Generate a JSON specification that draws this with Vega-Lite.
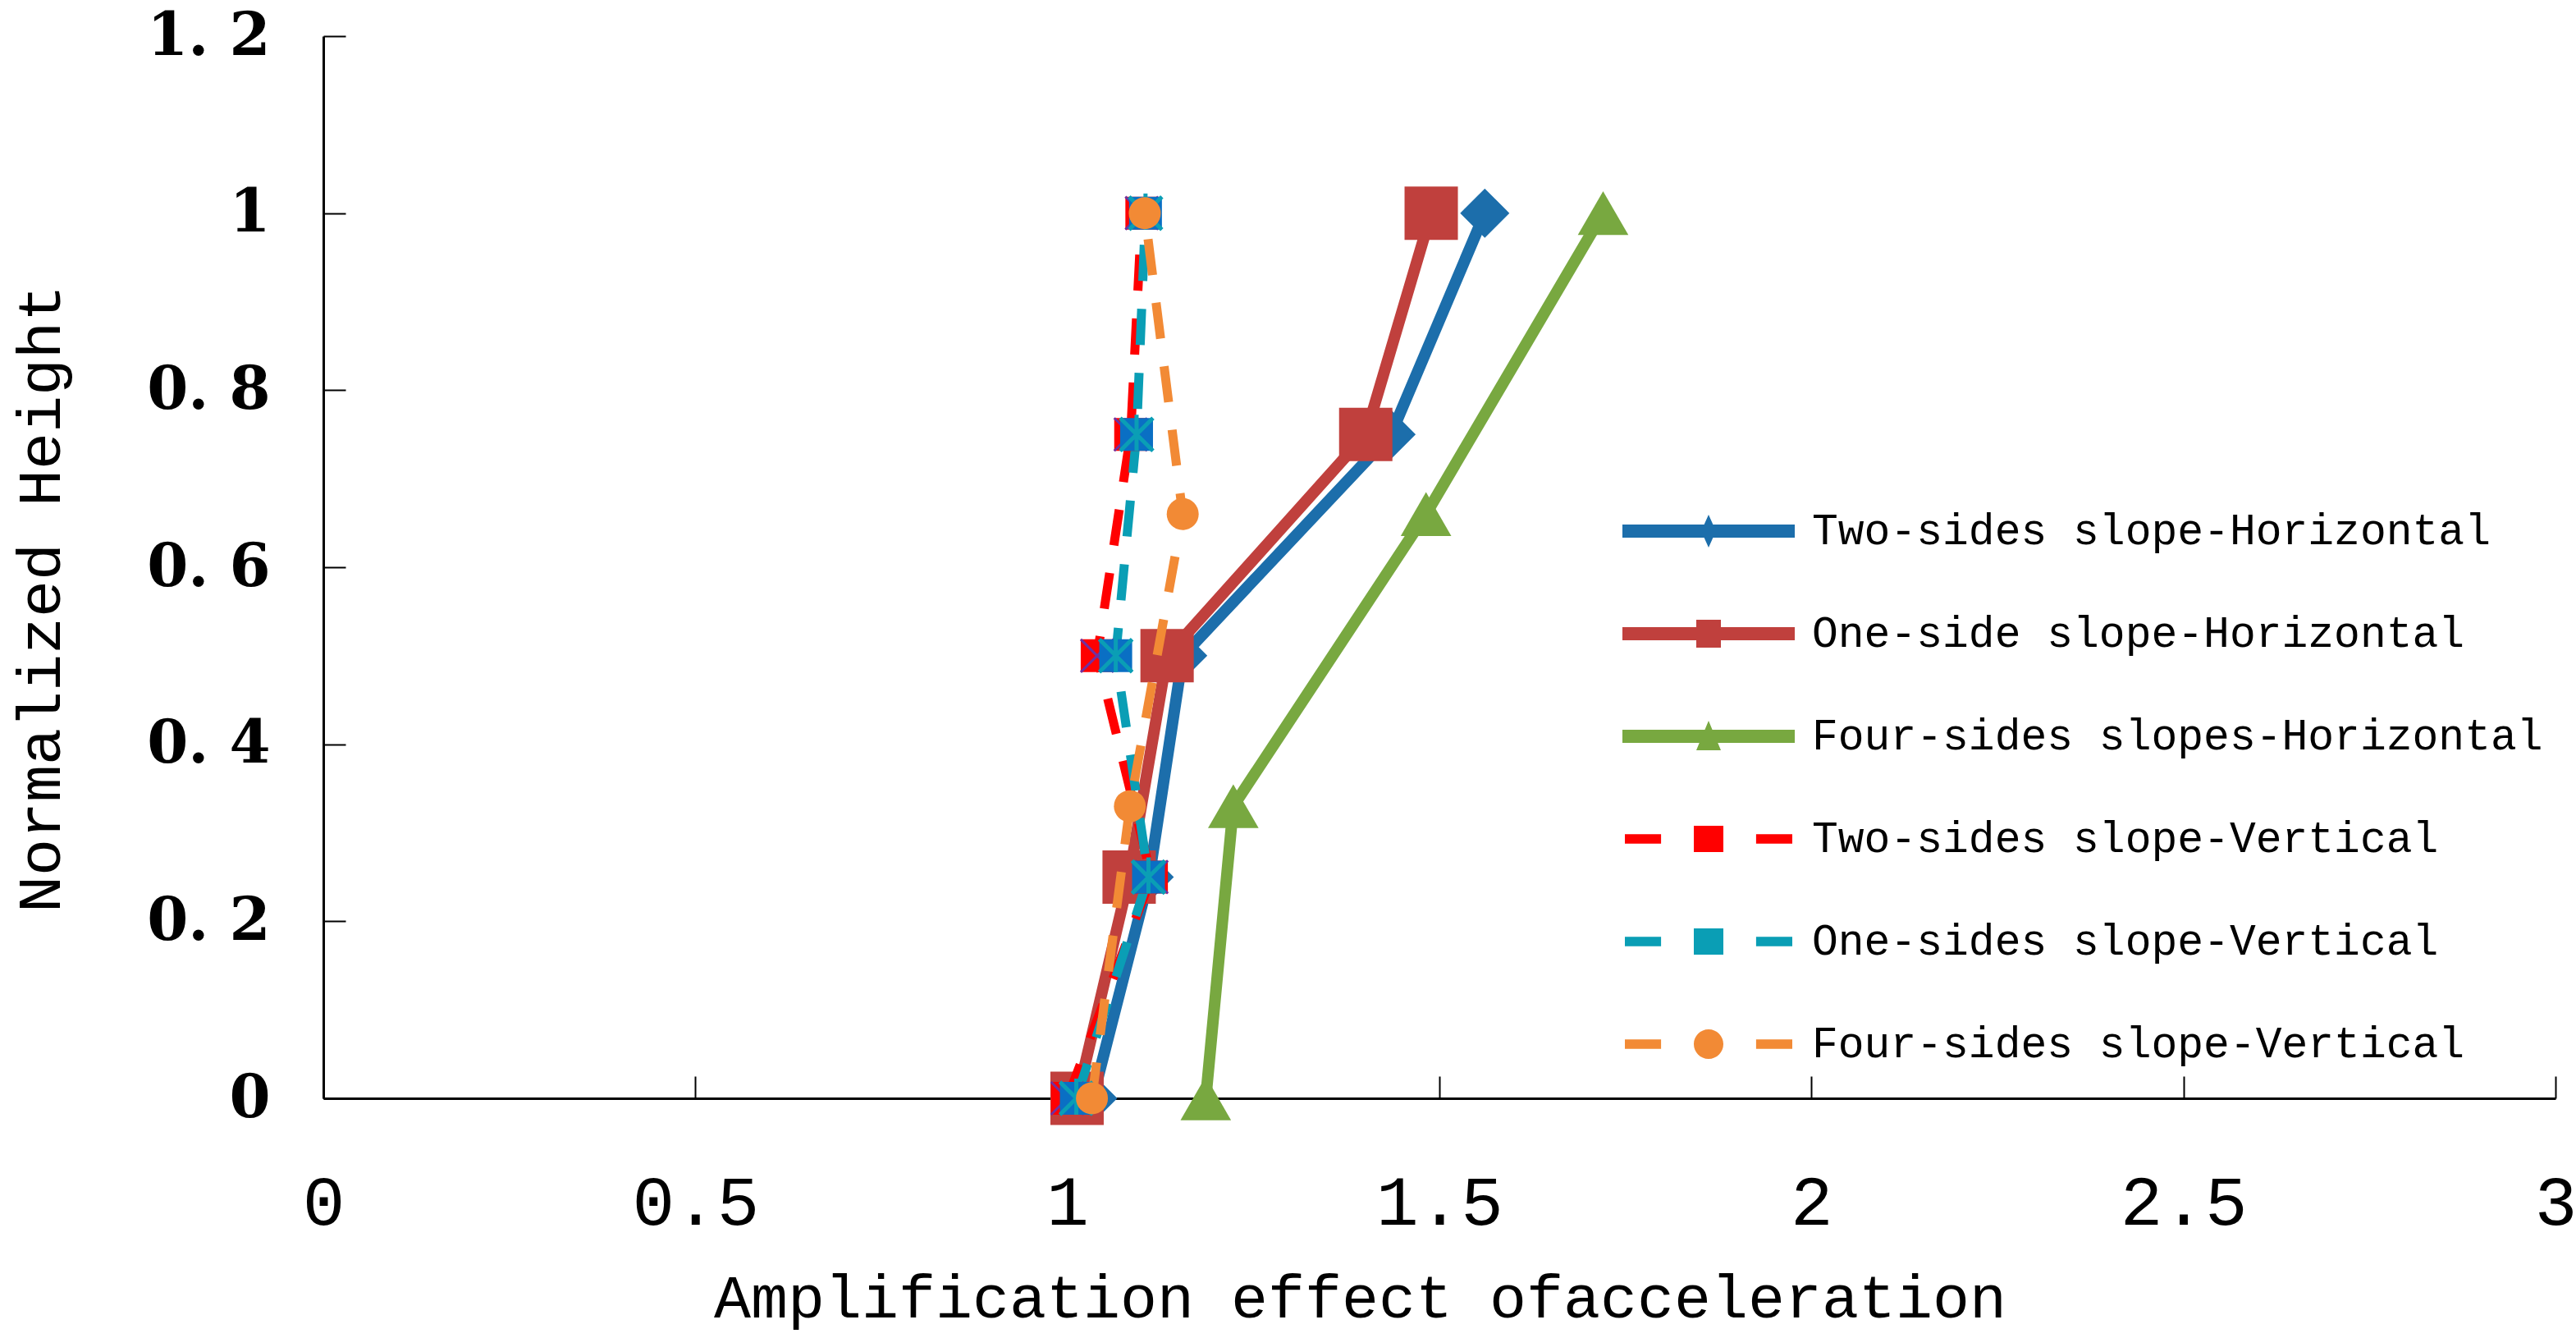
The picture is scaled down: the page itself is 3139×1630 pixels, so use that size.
{
  "$schema": "https://vega.github.io/schema/vega-lite/v6.json",
  "width": 2720,
  "height": 1294,
  "autosize": {"type": "none"},
  "padding": {"left": 394, "top": 44, "right": 25, "bottom": 292},
  "background": "white",
  "config": {
    "view": {"stroke": null},
    "axis": {"grid": false, "domainColor": "black", "domainWidth": 3, "tickColor": "black", "tickWidth": 2, "labelColor": "black", "titleColor": "black"}
  },
  "data": {
    "values": [
      {"s": "Two-sides slope-Horizontal", "t": "H", "x": 1.034, "y": 0},
      {"s": "Two-sides slope-Horizontal", "t": "H", "x": 1.11, "y": 0.25},
      {"s": "Two-sides slope-Horizontal", "t": "H", "x": 1.155, "y": 0.5},
      {"s": "Two-sides slope-Horizontal", "t": "H", "x": 1.435, "y": 0.75},
      {"s": "Two-sides slope-Horizontal", "t": "H", "x": 1.561, "y": 1},
      {"s": "One-side slope-Horizontal", "t": "H", "x": 1.013, "y": 0},
      {"s": "One-side slope-Horizontal", "t": "H", "x": 1.083, "y": 0.25},
      {"s": "One-side slope-Horizontal", "t": "H", "x": 1.134, "y": 0.5},
      {"s": "One-side slope-Horizontal", "t": "H", "x": 1.401, "y": 0.75},
      {"s": "One-side slope-Horizontal", "t": "H", "x": 1.489, "y": 1},
      {"s": "Four-sides slopes-Horizontal", "t": "H", "x": 1.186, "y": 0},
      {"s": "Four-sides slopes-Horizontal", "t": "H", "x": 1.223, "y": 0.33},
      {"s": "Four-sides slopes-Horizontal", "t": "H", "x": 1.482, "y": 0.66},
      {"s": "Four-sides slopes-Horizontal", "t": "H", "x": 1.72, "y": 1},
      {"s": "Two-sides slope-Vertical", "t": "V", "x": 1.0, "y": 0},
      {"s": "Two-sides slope-Vertical", "t": "V", "x": 1.113, "y": 0.25},
      {"s": "Two-sides slope-Vertical", "t": "V", "x": 1.04, "y": 0.5},
      {"s": "Two-sides slope-Vertical", "t": "V", "x": 1.085, "y": 0.75},
      {"s": "Two-sides slope-Vertical", "t": "V", "x": 1.1, "y": 1},
      {"s": "One-sides slope-Vertical", "t": "V", "x": 1.012, "y": 0},
      {"s": "One-sides slope-Vertical", "t": "V", "x": 1.109, "y": 0.25},
      {"s": "One-sides slope-Vertical", "t": "V", "x": 1.065, "y": 0.5},
      {"s": "One-sides slope-Vertical", "t": "V", "x": 1.093, "y": 0.75},
      {"s": "One-sides slope-Vertical", "t": "V", "x": 1.105, "y": 1},
      {"s": "Four-sides slope-Vertical", "t": "V", "x": 1.033, "y": 0},
      {"s": "Four-sides slope-Vertical", "t": "V", "x": 1.084, "y": 0.33},
      {"s": "Four-sides slope-Vertical", "t": "V", "x": 1.155, "y": 0.66},
      {"s": "Four-sides slope-Vertical", "t": "V", "x": 1.104, "y": 1}
    ]
  },
  "encoding": {
    "x": {
      "field": "x", "type": "quantitative",
      "scale": {"domain": [0, 3], "nice": false, "zero": false},
      "axis": {
        "title": "Amplification effect ofacceleration",
        "values": [0, 0.5, 1, 1.5, 2, 2.5, 3],
        "format": "~g",
        "tickSize": -27,
        "labelFont": "Liberation Mono", "labelFontSize": 86, "labelPadding": 112, "labelBaseline": "top",
        "labelFlush": false, "labelOverlap": false,
        "titleFont": "Liberation Mono", "titleFontSize": 75, "titleFontWeight": "normal",
        "titleX": 1263, "titleY": 266, "titleBaseline": "alphabetic", "titleAlign": "center"
      }
    },
    "y": {
      "field": "y", "type": "quantitative",
      "scale": {"domain": [0, 1.2], "nice": false},
      "axis": {
        "title": "Normalized Height",
        "values": [0, 0.2, 0.4, 0.6, 0.8, 1, 1.2],
        "format": "~g",
        "labelExpr": "replace(datum.label, '.', '. ')",
        "tickSize": -27,
        "labelFont": "DejaVu Serif", "labelFontSize": 72, "labelFontWeight": "bold", "labelPadding": 92,
        "labelFlush": false, "labelOverlap": false,
        "titleFont": "Liberation Mono", "titleFontSize": 75, "titleFontWeight": "normal",
        "titleAngle": 270, "titleX": -345, "titleY": 685, "titleBaseline": "middle", "titleAlign": "center"
      }
    }
  },
  "layer": [
    {
      "transform": [{"filter": "datum.y > 5"}],
      "mark": {"type": "point", "filled": true, "opacity": 1},
      "encoding": {
        "color": {
          "field": "s", "type": "nominal",
          "scale": {
            "domain": ["Two-sides slope-Horizontal", "One-side slope-Horizontal", "Four-sides slopes-Horizontal", "Two-sides slope-Vertical", "One-sides slope-Vertical", "Four-sides slope-Vertical"],
            "range": ["#1C6EAB", "#C0403D", "#78A840", "#FF0000", "#0A9EB5", "#F28A35"]
          },
          "legend": {
            "title": null, "orient": "none", "legendX": 1658, "legendY": 573, "padding": 0,
            "rowPadding": 68, "symbolSize": 3600, "labelOffset": 96, "symbolStrokeWidth": 0, "symbolOpacity": 1,
            "labelFont": "Liberation Mono", "labelFontSize": 53, "labelColor": "black", "labelLimit": 2000
          }
        },
        "shape": {
          "field": "s", "type": "nominal",
          "scale": {
            "domain": ["Two-sides slope-Horizontal", "One-side slope-Horizontal", "Four-sides slopes-Horizontal", "Two-sides slope-Vertical", "One-sides slope-Vertical", "Four-sides slope-Vertical"],
            "range": [
              "M-3.5,-0.27H3.5V0.27H-3.5Z M0,-0.67L0.3,0L0,0.67L-0.3,0Z",
              "M-3.5,-0.27H3.5V0.27H-3.5Z M-0.5,-0.57H0.5V0.57H-0.5Z",
              "M-3.5,-0.27H3.5V0.27H-3.5Z M0,-0.63L0.5,0.57H-0.5Z",
              "M-3.4,-0.19H-1.93V0.19H-3.4Z M1.93,-0.19H3.4V0.19H1.93Z M-0.6,-0.53H0.6V0.53H-0.6Z",
              "M-3.4,-0.19H-1.93V0.19H-3.4Z M1.93,-0.19H3.4V0.19H1.93Z M-0.6,-0.53H0.6V0.53H-0.6Z",
              "M-3.4,-0.19H-1.93V0.19H-3.4Z M1.93,-0.19H3.4V0.19H1.93Z M-0.6,0A0.6,0.6 0 1,0 0.6,0A0.6,0.6 0 1,0 -0.6,0Z"
            ]
          },
          "legend": {"title": null}
        }
      }
    },
    {
      "transform": [{"filter": "datum.t == 'H'"}],
      "mark": {"type": "line", "strokeWidth": 14, "strokeJoin": "miter"},
      "encoding": {
        "color": {"field": "s", "type": "nominal", "legend": null},
        "detail": {"field": "s"},
        "order": {"field": "y", "type": "quantitative"}
      }
    },
    {
      "transform": [{"filter": "datum.s == 'Two-sides slope-Horizontal'"}],
      "mark": {"type": "point", "filled": true, "opacity": 1, "shape": "diamond", "size": 3600},
      "encoding": {"color": {"field": "s", "type": "nominal", "legend": null}}
    },
    {
      "transform": [{"filter": "datum.s == 'One-side slope-Horizontal'"}],
      "mark": {"type": "point", "filled": true, "opacity": 1, "shape": "square", "size": 4225},
      "encoding": {"color": {"field": "s", "type": "nominal", "legend": null}}
    },
    {
      "transform": [{"filter": "datum.s == 'Four-sides slopes-Horizontal'"}],
      "mark": {"type": "point", "filled": true, "opacity": 1, "shape": "triangle-up", "size": 3800},
      "encoding": {"color": {"field": "s", "type": "nominal", "legend": null}}
    },
    {
      "transform": [{"filter": "datum.t == 'V'"}],
      "mark": {"type": "line", "strokeWidth": 11, "strokeDash": [44, 34]},
      "encoding": {
        "color": {"field": "s", "type": "nominal", "legend": null},
        "detail": {"field": "s"},
        "order": {"field": "y", "type": "quantitative"}
      }
    },
    {
      "transform": [{"filter": "datum.s == 'Two-sides slope-Vertical'"}],
      "mark": {"type": "point", "filled": true, "opacity": 1, "shape": "square", "size": 1600},
      "encoding": {"color": {"field": "s", "type": "nominal", "legend": null}}
    },
    {
      "transform": [{"filter": "datum.s == 'Two-sides slope-Vertical'"}],
      "mark": {"type": "point", "filled": false, "opacity": 1, "shape": "M-1,-1L1,1M-1,1L1,-1", "size": 1600, "color": "#7030A0", "strokeWidth": 3},
      "encoding": {}
    },
    {
      "transform": [{"filter": "datum.s == 'One-sides slope-Vertical'"}],
      "mark": {"type": "point", "filled": true, "opacity": 1, "shape": "square", "size": 1600, "color": "#0A6FC4"},
      "encoding": {}
    },
    {
      "transform": [{"filter": "datum.s == 'One-sides slope-Vertical'"}],
      "mark": {"type": "point", "filled": false, "opacity": 1, "shape": "M-1,-1L1,1M-1,1L1,-1M0,-1.2L0,1", "size": 1600, "color": "#0A9EB5", "strokeWidth": 5},
      "encoding": {}
    },
    {
      "transform": [{"filter": "datum.s == 'Four-sides slope-Vertical'"}],
      "mark": {"type": "point", "filled": true, "opacity": 1, "shape": "circle", "size": 1520},
      "encoding": {"color": {"field": "s", "type": "nominal", "legend": null}}
    }
  ]
}
